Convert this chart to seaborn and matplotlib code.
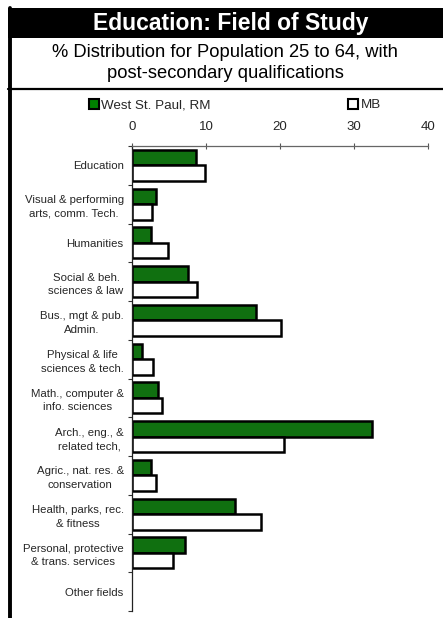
import numpy as np
import pandas as pd
import matplotlib
matplotlib.use("Agg")
import matplotlib.pyplot as plt
from matplotlib.patches import Rectangle
from matplotlib.lines import Line2D
from matplotlib.ticker import FixedLocator
import seaborn as sns

# ── data ──
FIELDS = [
    "Education",
    "Visual & performing\narts, comm. Tech.",
    "Humanities",
    "Social & beh.\nsciences & law",
    "Bus., mgt & pub.\nAdmin.",
    "Physical & life\nsciences & tech.",
    "Math., computer &\ninfo. sciences",
    "Arch., eng., &\nrelated tech,",
    "Agric., nat. res. &\nconservation",
    "Health, parks, rec.\n& fitness",
    "Personal, protective\n& trans. services",
    "Other fields",
]
WEST_ST_PAUL = [8.6, 3.2, 2.5, 7.5, 16.7, 1.4, 3.5, 32.4, 2.5, 13.9, 7.1, 0.0]
MB = [9.9, 2.7, 4.9, 8.8, 20.2, 2.9, 4.0, 20.6, 3.2, 17.4, 5.5, 0.0]
SERIES = ["West St. Paul, RM", "MB"]
X_TICKS = [0, 10, 20, 30, 40]

TITLE = "Education: Field of Study"
SUBTITLE = "% Distribution for Population 25 to 64, with\npost-secondary qualifications"

df = pd.DataFrame({
    "field": FIELDS * 2,
    "value": WEST_ST_PAUL + MB,
    "series": [SERIES[0]] * len(FIELDS) + [SERIES[1]] * len(FIELDS),
})

sns.set_style("white")
plt.rcParams["font.family"] = ["Liberation Sans", "DejaVu Sans"]

W, H = 443, 618
fig = plt.figure(figsize=(W / 100, H / 100), dpi=100)
ax = fig.add_axes([132 / W, 1 - 611 / H, (428 - 132) / W, (611 - 146) / H])

sns.barplot(data=df, x="value", y="field", hue="series", orient="h",
            palette={SERIES[0]: "#008000", SERIES[1]: "white"},
            edgecolor="black", linewidth=1.8, width=0.8,
            order=FIELDS, hue_order=SERIES, ax=ax)

# zero-length bars would show as a black stub on the axis
for p in ax.patches:
    if p.get_width() == 0:
        p.set_linewidth(0)

# ── axes styling ──
ax.set_xlim(0, 40)
ax.set_ylim(len(FIELDS) - 0.5, -0.5)
ax.set_xlabel(""); ax.set_ylabel("")
ax.xaxis.tick_top()
ax.set_xticks(X_TICKS)
ax.tick_params(axis="x", direction="inout", length=5, width=0.8, color="#555555",
               labelsize=9.5, pad=7)
ax.set_yticks(range(len(FIELDS)))
ax.set_yticklabels(FIELDS, multialignment="center", linespacing=1.45)
ax.tick_params(axis="y", which="major", length=0, labelsize=8.2, pad=6)
ax.yaxis.set_minor_locator(FixedLocator(np.arange(-0.5, len(FIELDS), 1.0)))
ax.tick_params(axis="y", which="minor", direction="out", length=3, width=0.8,
               color="#333333", left=True)

for side in ["right", "bottom"]:
    ax.spines[side].set_visible(False)
ax.spines["top"].set_color("#666666")
ax.spines["top"].set_linewidth(0.9)
ax.spines["left"].set_color("#222222")
ax.spines["left"].set_linewidth(0.9)

# ── legend ──
ax.get_legend().remove()
handles = [Rectangle((0, 0), 1, 1, facecolor="#008000", edgecolor="black", linewidth=1.5),
           Rectangle((0, 0), 1, 1, facecolor="white", edgecolor="black", linewidth=1.5)]
fig.legend(handles, SERIES, loc="center", bbox_to_anchor=(235 / W, 1 - 105 / H),
           ncol=2, frameon=False, fontsize=9.6, handlelength=0.75, handleheight=0.75,
           handletextpad=0.2, columnspacing=10.3, borderaxespad=0)

# ── frame: title band, subtitle, borders ──
fig.patches.append(Rectangle((8 / W, 1 - 38 / H), 1 - 8 / W, 30 / H,
                             transform=fig.transFigure, facecolor="black",
                             edgecolor="none", zorder=0))
fig.text(231 / W, 1 - 23.5 / H, TITLE, color="white", fontsize=16.5,
         fontweight="bold", ha="center", va="center")
fig.text(225 / W, 1 - 63 / H, SUBTITLE, color="black", fontsize=13.2,
         ha="center", va="center", linespacing=1.38)
fig.lines.append(Line2D([10 / W, 10 / W], [0, 1 - 8 / H], transform=fig.transFigure,
                        color="black", linewidth=2.8))
fig.lines.append(Line2D([8 / W, 1], [1 - 88.5 / H, 1 - 88.5 / H], transform=fig.transFigure,
                        color="black", linewidth=1.6))

fig.savefig("out.png", dpi=100)
